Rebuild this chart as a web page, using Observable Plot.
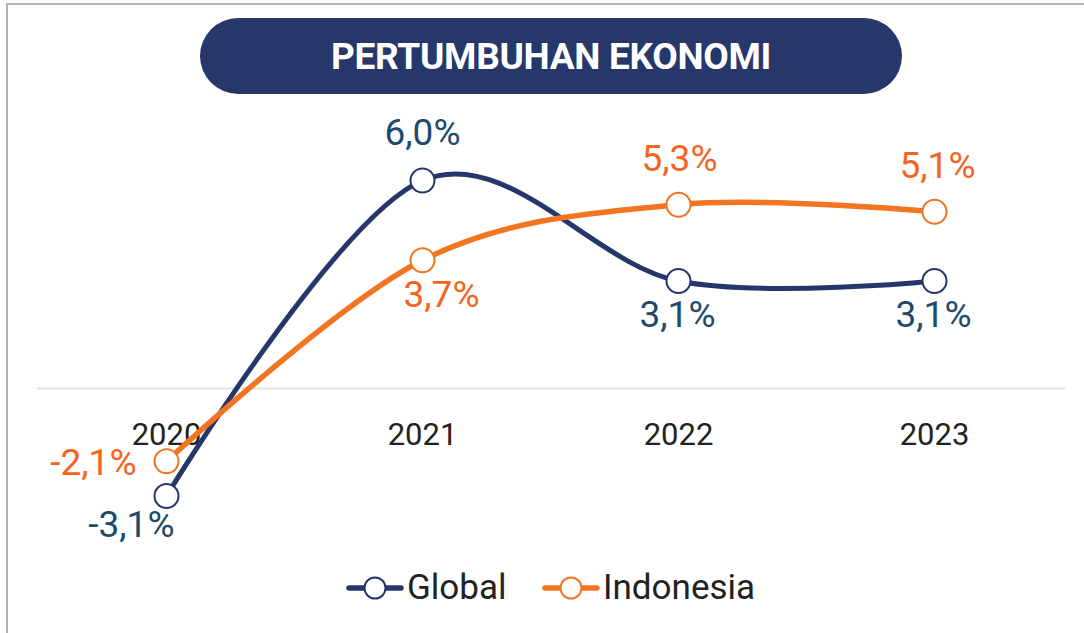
<!DOCTYPE html>
<html>
<head>
<meta charset="utf-8">
<script src="https://cdn.jsdelivr.net/npm/d3@7"></script>
<script src="https://cdn.jsdelivr.net/npm/@observablehq/plot@0.6"></script>
<style>
  html, body { margin: 0; padding: 0; background: #fff; }
  #wrap { position: relative; width: 1084px; height: 633px; overflow: hidden; font-family: Roboto, "Noto Sans", sans-serif; }
  #frame { position: absolute; left: 6px; top: 3px; right: 0; bottom: -4px; border-top: 2px solid #b4b4b4; border-left: 2px solid #b4b4b4; }
  #title { position: absolute; left: 200px; top: 18px; width: 702px; height: 76px; border-radius: 38px; background: #26376a;
           color: #fff; font-weight: 700; font-size: 37px; line-height: 37px; display: flex; align-items: center; justify-content: center; letter-spacing: -0.3px; }
  #chart, #legend { position: absolute; left: 0; top: 0; }
</style>
</head>
<body>
<div id="wrap">
  <div id="frame"></div>
  <div id="chart"></div>
  <div id="title">PERTUMBUHAN EKONOMI</div>
  <div id="legend"></div>
</div>
<script>
// ---- data ----
const titleText = "PERTUMBUHAN EKONOMI";
const years = [2020, 2021, 2022, 2023];
const seriesNames = ["Global", "Indonesia"];
const globalGrowth = [-3.1, 6.0, 3.1, 3.1];
const indonesiaGrowth = [-2.1, 3.7, 5.3, 5.1];

// ---- styling ----
const lineColor = { Global: "#25366a", Indonesia: "#f47521" };
const labelColor = { Global: "#1e4a6c", Indonesia: "#f5641e" };
const lineWidth = { Global: 5, Indonesia: 5.5 };
// label placement relative to each point (style, not data)
const place = {
  "Global-2020":    { anchor: "end",    dx: 8,   dy: 29 },
  "Global-2021":    { anchor: "middle", dx: 0,   dy: -47 },
  "Global-2022":    { anchor: "middle", dx: -1,  dy: 34 },
  "Global-2023":    { anchor: "middle", dx: -1,  dy: 34 },
  "Indonesia-2020": { anchor: "end",    dx: -30, dy: 2 },
  "Indonesia-2021": { anchor: "middle", dx: 19,  dy: 35 },
  "Indonesia-2022": { anchor: "middle", dx: 1,   dy: -46 },
  "Indonesia-2023": { anchor: "middle", dx: 3,   dy: -46 }
};

const valuesBySeries = { Global: globalGrowth, Indonesia: indonesiaGrowth };
const rows = seriesNames.flatMap(s => years.map((year, i) => ({ series: s, year, value: valuesBySeries[s][i] })));
const fmt = v => v.toFixed(1).replace(".", ",") + "%";

const marks = [
  Plot.ruleY([0], { stroke: "#e2e2e2", strokeWidth: 2 }),
  Plot.axisX({ ticks: years, tickFormat: d => String(d), tickSize: 0, tickPadding: 12, fontSize: 31, fill: "#222", label: null })
];
for (const s of seriesNames) {
  marks.push(Plot.line(rows.filter(d => d.series === s), {
    x: "year", y: "value", stroke: lineColor[s], strokeWidth: lineWidth[s], curve: "cardinal", strokeLinecap: "round"
  }));
}
for (const s of seriesNames) {
  marks.push(Plot.dot(rows.filter(d => d.series === s), {
    x: "year", y: "value", r: 12, fill: "#fff", stroke: lineColor[s], strokeWidth: 2
  }));
}
for (const d of rows) {
  const p = place[d.series + "-" + d.year];
  marks.push(Plot.text([d], {
    x: "year", y: "value", text: r => fmt(r.value), dx: p.dx, dy: p.dy, textAnchor: p.anchor,
    fill: labelColor[d.series], fontSize: 37
  }));
}

const chart = Plot.plot({
  width: 1084, height: 633,
  marginLeft: 37, marginRight: 19, marginTop: 0, marginBottom: 223,
  x: { domain: [2020, 2023], range: [166, 934] },
  y: { domain: [0, 6], range: [388, 180], axis: null },
  style: { fontFamily: "Roboto, 'Noto Sans', sans-serif", background: "transparent", overflow: "visible" },
  marks
});
document.getElementById("chart").appendChild(chart);
document.getElementById("title").textContent = titleText;

// ---- legend ----
const lg = d3.select("#legend").append("svg").attr("width", 1084).attr("height", 633)
  .style("font-family", "Roboto, 'Noto Sans', sans-serif");
const legendX = { Global: 347, Indonesia: 543 };
for (const s of seriesNames) {
  const g = lg.append("g").attr("transform", `translate(${legendX[s]},588)`);
  g.append("line").attr("x1", 2).attr("x2", 54).attr("y1", 0).attr("y2", 0)
    .attr("stroke", lineColor[s]).attr("stroke-width", 5.5).attr("stroke-linecap", "round");
  g.append("circle").attr("cx", 28).attr("cy", 0).attr("r", 10.5)
    .attr("fill", "#fff").attr("stroke", lineColor[s]).attr("stroke-width", 2);
  g.append("text").attr("x", 60).attr("y", 11).attr("font-size", 35).attr("fill", "#222").text(s);
}
</script>
</body>
</html>
